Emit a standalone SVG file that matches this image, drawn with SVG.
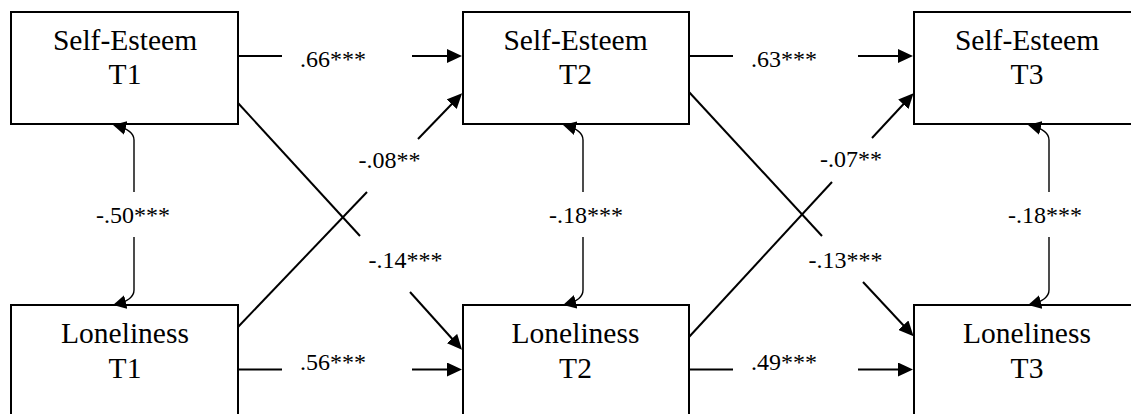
<svg xmlns="http://www.w3.org/2000/svg" width="1131" height="414" viewBox="0 0 1131 414">
  <style>
    .box { fill: #ffffff; stroke: #000000; stroke-width: 2; }
    .name { font-family: 'Liberation Serif', 'DejaVu Serif', serif; font-size: 29.5px; text-anchor: middle; fill: #000000; }
    .coef { font-family: 'Liberation Serif', 'DejaVu Serif', serif; font-size: 24px; fill: #000000; }
    .mid { text-anchor: middle; }
    .path { fill: none; stroke: #000000; stroke-width: 2; }
    .corr { fill: none; stroke: #000000; stroke-width: 1.4; }
  </style>
  <defs>
    <marker id="head" markerUnits="userSpaceOnUse" markerWidth="16" markerHeight="14" refX="12" refY="7" orient="auto">
      <path d="M0,0 L15,7 L0,14 Z" fill="#000000"/>
    </marker>
    <marker id="headSmall" markerUnits="userSpaceOnUse" markerWidth="14" markerHeight="14" refX="10" refY="7" orient="auto">
      <path d="M0,0 L13,7 L0,14 Z" fill="#000000"/>
    </marker>
  </defs>
  <rect width="1131" height="414" fill="#ffffff"/>

  <!-- Nodes -->
  <g id="se-t1">
    <rect class="box" x="11" y="12" width="227" height="112"/>
    <text class="name" x="125" y="50">Self-Esteem</text>
    <text class="name" x="125" y="84">T1</text>
  </g>
  <g id="se-t2">
    <rect class="box" x="463" y="12" width="226" height="112"/>
    <text class="name" x="575.5" y="50">Self-Esteem</text>
    <text class="name" x="575.5" y="84">T2</text>
  </g>
  <g id="se-t3">
    <rect class="box" x="914" y="12" width="226" height="112"/>
    <text class="name" x="1027" y="50">Self-Esteem</text>
    <text class="name" x="1027" y="84">T3</text>
  </g>
  <g id="lon-t1">
    <rect class="box" x="11" y="305" width="227" height="112"/>
    <text class="name" x="125" y="343">Loneliness</text>
    <text class="name" x="125" y="378">T1</text>
  </g>
  <g id="lon-t2">
    <rect class="box" x="463" y="305" width="226" height="112"/>
    <text class="name" x="575.5" y="343">Loneliness</text>
    <text class="name" x="575.5" y="378">T2</text>
  </g>
  <g id="lon-t3">
    <rect class="box" x="914" y="305" width="226" height="112"/>
    <text class="name" x="1027" y="343">Loneliness</text>
    <text class="name" x="1027" y="378">T3</text>
  </g>

  <!-- Connectors -->
  <g id="connectors">
    <!-- stability paths -->
    <line class="path" x1="238" y1="56" x2="282" y2="56"/>
    <line class="path" x1="412" y1="56" x2="459" y2="56" marker-end="url(#head)"/>
    <line class="path" x1="689" y1="56" x2="733" y2="56"/>
    <line class="path" x1="858" y1="56" x2="910" y2="56" marker-end="url(#head)"/>
    <line class="path" x1="238" y1="369.5" x2="282" y2="369.5"/>
    <line class="path" x1="412" y1="369.5" x2="459" y2="369.5" marker-end="url(#head)"/>
    <line class="path" x1="689" y1="369.5" x2="733" y2="369.5"/>
    <line class="path" x1="858" y1="369.5" x2="910" y2="369.5" marker-end="url(#head)"/>

    <!-- cross-lagged: self-esteem to loneliness -->
    <line class="path" x1="238" y1="103" x2="360" y2="236"/>
    <line class="path" x1="410" y1="292" x2="460" y2="347.5" marker-end="url(#head)"/>
    <line class="path" x1="689" y1="92" x2="822" y2="236"/>
    <line class="path" x1="863" y1="282" x2="911.5" y2="334" marker-end="url(#head)"/>

    <!-- cross-lagged: loneliness to self-esteem -->
    <line class="path" x1="238" y1="327" x2="367" y2="192"/>
    <line class="path" x1="418" y1="139" x2="460" y2="95.5" marker-end="url(#head)"/>
    <line class="path" x1="689" y1="337" x2="832" y2="182"/>
    <line class="path" x1="872" y1="138" x2="911.5" y2="95.5" marker-end="url(#head)"/>

    <!-- within-time correlations -->
    <path class="corr" d="M134,192 V140 Q134,130 116,125.7" marker-end="url(#headSmall)"/>
    <path class="corr" d="M134,237 V290 Q134,300 116,304.3" marker-end="url(#headSmall)"/>
    <path class="corr" d="M583,192 V140 Q583,130 566,125.7" marker-end="url(#headSmall)"/>
    <path class="corr" d="M583,237 V290 Q583,300 566,304.3" marker-end="url(#headSmall)"/>
    <path class="corr" d="M1049,192 V140 Q1049,130 1031,125.7" marker-end="url(#headSmall)"/>
    <path class="corr" d="M1049,237 V290 Q1049,300 1031,304.3" marker-end="url(#headSmall)"/>
  </g>

  <!-- Coefficients -->
  <g id="labels">
    <text class="coef" x="300" y="67">.66***</text>
    <text class="coef" x="751" y="67">.63***</text>
    <text class="coef" x="300" y="369.5">.56***</text>
    <text class="coef" x="751" y="369.5">.49***</text>
    <text class="coef mid" x="389.5" y="168">-.08**</text>
    <text class="coef mid" x="405.5" y="268">-.14***</text>
    <text class="coef mid" x="851" y="167">-.07**</text>
    <text class="coef mid" x="845.5" y="268">-.13***</text>
    <text class="coef mid" x="133" y="223">-.50***</text>
    <text class="coef mid" x="586" y="223">-.18***</text>
    <text class="coef mid" x="1045" y="223">-.18***</text>
  </g>
</svg>
